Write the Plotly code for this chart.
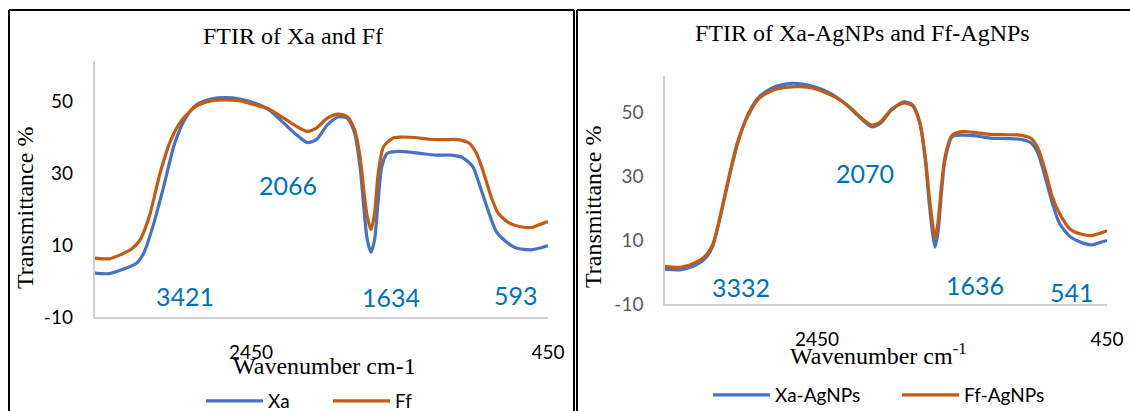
import plotly.graph_objects as go

# ---------------- data ----------------
wn_left = [3503, 3405, 3307, 3221, 3172, 3111, 3038, 2964, 2891, 2817, 2719, 2621, 2523,
           2426, 2328, 2230, 2156, 2071, 2010, 1936, 1863, 1802, 1752, 1716, 1691, 1667,
           1642, 1618, 1593, 1569, 1532, 1471, 1397, 1299, 1202, 1104, 1030, 957, 908,
           847, 798, 736, 663, 565, 504, 450]
xa = [2.2, 2.1, 3.4, 5.0, 7.8, 15.2, 26.4, 38.4, 45.4, 49.1, 50.7, 51.1, 50.7,
      49.6, 47.7, 44.0, 41.2, 38.6, 39.4, 43.5, 45.7, 45.4, 41.2, 31.9, 20.8, 11.5,
      8.0, 11.5, 22.7, 31.9, 35.6, 36.1, 36.0, 35.5, 35.1, 35.1, 34.5, 31.9, 26.4,
      18.9, 13.8, 11.1, 9.2, 8.7, 9.2, 9.9]

wn_ff = [3503, 3405, 3331, 3246, 3197, 3135, 3062, 2989, 2915, 2817, 2719, 2621, 2523,
         2426, 2328, 2230, 2144, 2071, 2010, 1936, 1863, 1802, 1752, 1716, 1691, 1667,
         1642, 1618, 1593, 1557, 1495, 1446, 1348, 1250, 1153, 1055, 981, 932, 883,
         834, 785, 712, 614, 553, 492, 450]
ff = [6.4, 6.2, 7.3, 9.2, 11.5, 18.0, 30.1, 39.4, 44.9, 48.8, 50.2, 50.5, 50.2,
      49.1, 47.9, 45.4, 43.1, 41.7, 42.6, 45.4, 46.5, 45.8, 42.1, 34.7, 25.4, 18.0,
      14.3, 18.9, 30.1, 37.5, 39.8, 40.1, 40.0, 39.5, 39.4, 39.4, 38.4, 35.6, 30.1,
      23.6, 18.9, 16.2, 15.0, 15.0, 16.0, 16.6]

wn_right = [3500, 3392, 3306, 3219, 3170, 3121, 3059, 2997, 2923, 2849, 2751, 2628, 2504,
            2406, 2319, 2233, 2147, 2073, 2011, 1937, 1851, 1789, 1740, 1703, 1678, 1653,
            1636, 1616, 1592, 1567, 1518, 1444, 1345, 1247, 1148, 1049, 975, 926, 877,
            827, 778, 704, 630, 556, 494, 450]
xa_ag = [0.9, 0.7, 1.8, 4.4, 8.0, 16.4, 28.9, 40.3, 49.7, 54.9, 57.8, 59.1, 58.5,
         57.0, 54.9, 51.8, 48.1, 45.5, 46.6, 50.7, 53.3, 52.3, 46.6, 35.1, 22.6, 12.2,
         7.8, 12.2, 24.7, 35.1, 42.4, 42.9, 42.6, 41.9, 41.8, 41.6, 40.5, 37.2, 29.9,
         21.6, 15.3, 11.1, 9.3, 8.5, 9.3, 9.9]
ff_ag = [1.8, 1.5, 2.6, 5.1, 8.5, 16.9, 29.4, 40.8, 49.2, 54.4, 57.0, 58.0, 57.8,
         56.5, 54.6, 52.0, 48.4, 46.0, 47.1, 50.9, 53.0, 52.0, 46.6, 36.1, 24.7, 15.3,
         10.6, 15.3, 26.8, 36.1, 42.9, 44.0, 43.6, 43.1, 43.0, 42.9, 41.9, 38.8, 32.0,
         23.6, 18.4, 13.4, 11.9, 11.4, 12.2, 12.9]

y_ticks = [-10, 10, 30, 50]
y_tick_text = ["-10", "10", "30", "50"]
x_ticks = [2450, 450]
x_tick_text = ["2450", "450"]
peaks_left = ["3421", "2066", "1634", "593"]
peaks_right = ["3332", "2070", "1636", "541"]

# ---------------- layout helpers ----------------
W, H = 1130, 411
def px(x):
    return x / W
def py(y):
    return 1 - y / H

BLUE = "#4472C4"
ORANGE = "#C55A11"
SERIF = "Liberation Serif"
SANS = "Lato"

fig = go.Figure()
line_style = dict(width=3.2, shape="spline", smoothing=0.7)
fig.add_trace(go.Scatter(x=wn_left, y=xa, name="Xa", mode="lines",
                         line=dict(color=BLUE, **line_style),
                         xaxis="x", yaxis="y", legend="legend"))
fig.add_trace(go.Scatter(x=wn_ff, y=ff, name="Ff", mode="lines",
                         line=dict(color=ORANGE, **line_style),
                         xaxis="x", yaxis="y", legend="legend"))
fig.add_trace(go.Scatter(x=wn_right, y=xa_ag, name="Xa-AgNPs", mode="lines",
                         line=dict(color=BLUE, **line_style),
                         xaxis="x2", yaxis="y2", legend="legend2"))
fig.add_trace(go.Scatter(x=wn_right, y=ff_ag, name="Ff-AgNPs", mode="lines",
                         line=dict(color=ORANGE, **line_style),
                         xaxis="x2", yaxis="y2", legend="legend2"))

axis_line = "#D0D0D0"
common_x = dict(showgrid=False, zeroline=False, showline=True, linecolor=axis_line,
                linewidth=1.5, ticks="", tickvals=x_ticks, ticktext=x_tick_text,
                tickfont=dict(family=SANS, size=19, color="#000000"),
                ticklabelstandoff=17)
common_y = dict(showgrid=False, zeroline=False, showline=True, linecolor=axis_line,
                linewidth=1.5, ticks="", tickvals=y_ticks, ticktext=y_tick_text,
                ticklabelstandoff=16)

fig.update_layout(
    width=W, height=H,
    margin=dict(l=0, r=0, t=0, b=0, pad=0, autoexpand=False),
    paper_bgcolor="white", plot_bgcolor="white",
    xaxis=dict(domain=[px(94.5), px(548)], range=[3504, 450], anchor="y", **common_x),
    yaxis=dict(domain=[py(317), py(61)], range=[-10, 61.3], anchor="x",
               tickfont=dict(family=SANS, size=19, color="#000000"), **common_y),
    xaxis2=dict(domain=[px(665), px(1107)], range=[3498, 450], anchor="y2", **common_x),
    yaxis2=dict(domain=[py(304), py(76)], range=[-10, 61.4], anchor="x2",
                tickfont=dict(family=SANS, size=19, color="#595959"), **common_y),
    legend=dict(orientation="h", x=px(201), y=py(401), xanchor="left", yanchor="middle",
                font=dict(family=SANS, size=19, color="#000000"),
                bgcolor="rgba(0,0,0,0)", itemwidth=57, entrywidth=55, entrywidthmode="pixels"),
    legend2=dict(orientation="h", x=px(708), y=py(395), xanchor="left", yanchor="middle",
                 font=dict(family=SANS, size=19, color="#000000"),
                 bgcolor="rgba(0,0,0,0)", itemwidth=57, entrywidth=117, entrywidthmode="pixels"),
    showlegend=True,
)

ann = []
def text(x, y, s, size, family, color="#000000", angle=0):
    ann.append(dict(x=px(x), y=py(y), xref="paper", yref="paper", text=s,
                    showarrow=False, xanchor="center", yanchor="middle",
                    font=dict(family=family, size=size, color=color), textangle=angle))

text(293, 36, "FTIR of Xa and Ff", 24, SERIF)
text(862, 33, "FTIR of Xa-AgNPs and Ff-AgNPs", 24, SERIF)
text(25, 208, "Transmittance %", 24, SERIF, angle=-90)
text(593, 207, "Transmittance %", 24, SERIF, angle=-90)
text(324, 366, "Wavenumber cm-1", 24, SERIF)
text(878, 354, "Wavenumber cm<sup>-1</sup>", 24, SERIF)

PEAK = "#0070C0"
for (x, y), s in zip([(185, 296), (288, 185), (391, 297), (516, 295)], peaks_left):
    text(x, y, s, 25, SANS, PEAK)
for (x, y), s in zip([(741, 287), (865, 173), (975, 285), (1072, 292)], peaks_right):
    text(x, y, s, 25, SANS, PEAK)
fig.update_layout(annotations=ann)

# panel frames
shapes = []
def seg(x0, y0, x1, y1):
    shapes.append(dict(type="line", xref="paper", yref="paper",
                       x0=px(x0), y0=py(y0), x1=px(x1), y1=py(y1),
                       line=dict(color="black", width=2)))
seg(9, 10, 574, 10)
seg(9, 10, 9, 411)
seg(574, 10, 574, 411)
seg(577, 10, 1130, 10)
seg(577, 10, 577, 411)
fig.update_layout(shapes=shapes)

fig.write_html("out.html")
